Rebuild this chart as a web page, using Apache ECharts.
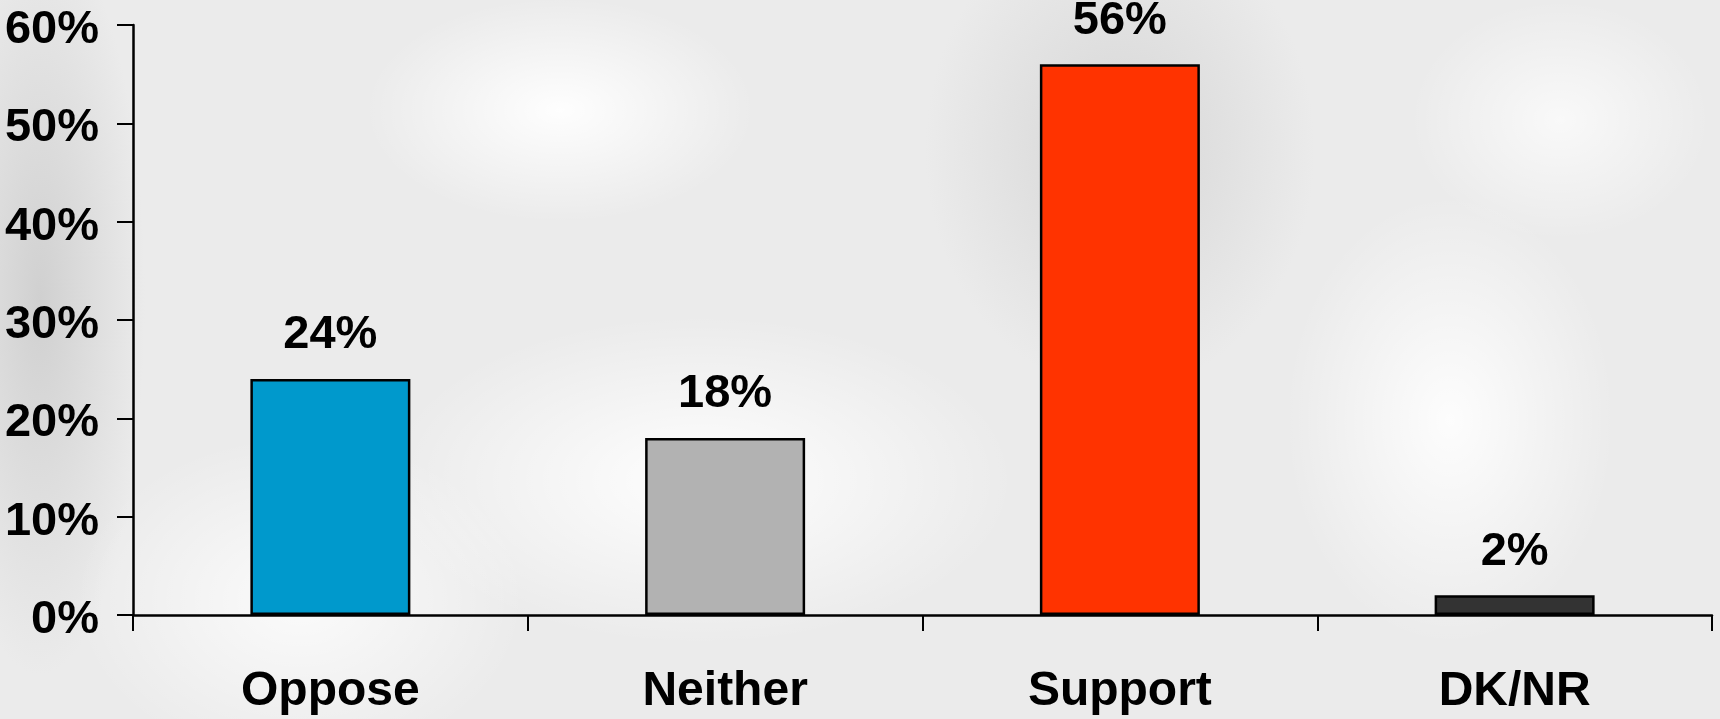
<!DOCTYPE html>
<html>
<head>
<meta charset="utf-8">
<script src="https://cdn.jsdelivr.net/npm/echarts@6/dist/echarts.min.js"></script>
<style>
html,body{margin:0;padding:0;}
#chart{width:1720px;height:719px;
background:
 radial-gradient(ellipse 260px 150px at 560px 110px, rgba(255,255,255,0.95), rgba(255,255,255,0) 75%),
 radial-gradient(ellipse 420px 220px at 700px 480px, rgba(255,255,255,0.95), rgba(255,255,255,0) 75%),
 radial-gradient(ellipse 220px 300px at 1450px 420px, rgba(255,255,255,0.9), rgba(255,255,255,0) 75%),
 radial-gradient(ellipse 200px 160px at 1560px 120px, rgba(255,255,255,0.7), rgba(255,255,255,0) 75%),
 radial-gradient(ellipse 300px 220px at 300px 600px, rgba(255,255,255,0.8), rgba(255,255,255,0) 75%),
 radial-gradient(ellipse 140px 500px at 40px 300px, rgba(205,205,205,0.9), rgba(205,205,205,0) 75%),
 radial-gradient(ellipse 260px 320px at 1120px 150px, rgba(208,208,208,0.8), rgba(208,208,208,0) 75%),
 #ebebeb;}
</style>
</head>
<body>
<div id="chart"></div>
<script>
const categories = ['Oppose', 'Neither', 'Support', 'DK/NR'];
const values = [24, 18, 56, 2];
const barColors = ['#0099CC', '#B2B2B2', '#FF3300', '#333333'];
const yTicks = [0, 10, 20, 30, 40, 50, 60];

const font = 'Liberation Sans, Arial, sans-serif';
const chart = echarts.init(document.getElementById('chart'), null, {renderer: 'canvas'});
chart.setOption({
  backgroundColor: 'transparent',
  animation: false,
  grid: {left: 133, right: 8, top: 25, bottom: 104, containLabel: false},
  xAxis: {
    type: 'category',
    data: categories,
    axisLine: {lineStyle: {color: '#000', width: 2.5}},
    axisTick: {show: true, length: 16, lineStyle: {color: '#000', width: 2}},
    axisLabel: {color: '#000', fontFamily: font, fontWeight: 'bold', fontSize: 48, margin: 53}
  },
  yAxis: {
    type: 'value',
    min: yTicks[0], max: yTicks[yTicks.length - 1], interval: 10,
    splitLine: {show: false},
    axisLine: {show: true, lineStyle: {color: '#000', width: 2.5}},
    axisTick: {show: true, length: 16, lineStyle: {color: '#000', width: 2}},
    axisLabel: {color: '#000', fontFamily: font, fontWeight: 'bold', fontSize: 47, margin: 34,
      verticalAlign: 'top', lineHeight: 10,
      formatter: v => v + '%'}
  },
  series: [{
    type: 'bar',
    barWidth: 160,
    data: values.map((v, i) => ({value: v, itemStyle: {color: barColors[i]}})),
    itemStyle: {borderColor: '#000', borderWidth: 2.5},
    label: {show: true, position: 'top', distance: 20, color: '#000', fontFamily: font,
      fontWeight: 'bold', fontSize: 47, formatter: p => p.value + '%'}
  }]
});
</script>
</body>
</html>
